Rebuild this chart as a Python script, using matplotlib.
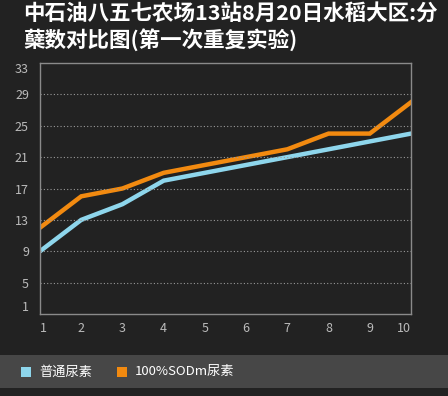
import matplotlib

matplotlib.use("Agg")
import matplotlib.pyplot as plt
from matplotlib.patches import Rectangle

plt.rcParams['font.family'] = ['Noto Sans CJK SC', 'DejaVu Sans']

# data
days = [1, 2, 3, 4, 5, 6, 7, 8, 9, 10]
normal_urea = [9, 13, 15, 18, 19, 20, 21, 22, 23, 24]
sod_urea = [12, 16, 17, 19, 20, 21, 22, 24, 24, 28]
y_ticks = [1, 5, 9, 13, 17, 21, 25, 29, 33]
series_names = ["普通尿素", "100%SODm尿素"]
title = "中石油八五七农场13站8月20日水稻大区:分\n蘖数对比图(第一次重复实验)"

bg = "#222222"
blue = "#8ed6ec"
orange = "#f28a10"

fig = plt.figure(figsize=(4.48, 3.96), dpi=100, facecolor=bg)
W, H = 448, 396
ax = fig.add_axes([40 / W, 1 - 314 / H, 371 / W, 251 / H], facecolor=bg)

ax.plot(days, normal_urea, color=blue, lw=3.2, solid_joinstyle='miter')
ax.plot(days, sod_urea, color=orange, lw=3.2, solid_joinstyle='miter')

ax.set_xlim(1, 10)
ax.set_ylim(1, 33)
ax.set_yticks(y_ticks)
ax.set_xticks(days)
ax.set_yticklabels([str(v) for v in y_ticks])
ax.set_xticklabels([str(d) for d in days])
for v in y_ticks[1:-1]:
    ax.axhline(v, color="#9a9a9a", lw=0.8, ls=(0, (1, 2)))

ax.tick_params(length=0, colors="#bbbbbb", labelsize=9, pad=6)
ax.tick_params(axis='y', pad=8)
ylabs = ax.get_yticklabels()
ylabs[0].set_va('bottom')
ylabs[-1].set_va('top')
xlabs = ax.get_xticklabels()
xlabs[0].set_ha('left')
xlabs[-1].set_ha('right')
for s in ax.spines.values():
    s.set_color("#8a8a8a")
    s.set_linewidth(1)

fig.text(23 / W, 1 - 3 / H, title, color="white", fontsize=15.5, fontweight='bold',
         va='top', ha='left', linespacing=1.22)

# legend band
fig.patches.append(Rectangle((0, 1 - 388 / H), 1, 33 / H, transform=fig.transFigure,
                             facecolor="#474747", edgecolor='none'))
fig.patches.append(Rectangle((21 / W, 1 - 377 / H), 10 / W, 10 / H, transform=fig.transFigure,
                             facecolor=blue, edgecolor='none'))
fig.text(39 / W, 1 - 372 / H, series_names[0], color="white", fontsize=9.5, va='center')
fig.patches.append(Rectangle((117 / W, 1 - 377 / H), 10 / W, 10 / H, transform=fig.transFigure,
                             facecolor=orange, edgecolor='none'))
fig.text(135 / W, 1 - 372 / H, series_names[1], color="white", fontsize=9.5, va='center')

fig.savefig("out.png", dpi=100, facecolor=bg)
